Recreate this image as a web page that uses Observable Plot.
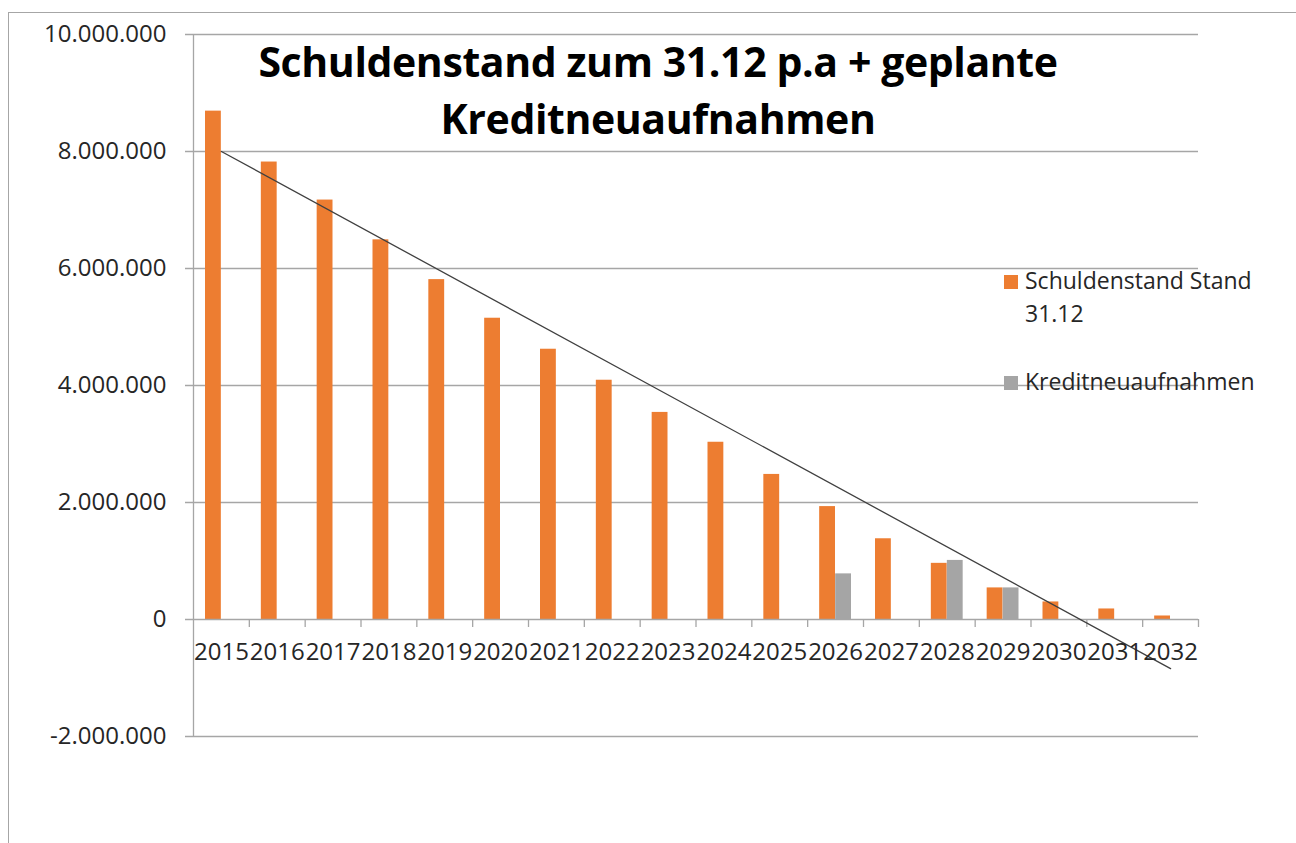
<!DOCTYPE html>
<html>
<head>
<meta charset="utf-8">
<script src="https://cdn.jsdelivr.net/npm/d3@7"></script>
<script src="https://cdn.jsdelivr.net/npm/@observablehq/plot@0.6"></script>
<style>
  html, body { margin: 0; padding: 0; background: #fff; }
  #wrap { position: relative; width: 1296px; height: 843px; overflow: hidden; font-family: "Open Sans", sans-serif; }
  #frame { position: absolute; left: 8px; top: 12px; width: 1400px; height: 900px; border: 1px solid #a6a6a6; box-sizing: border-box; }
  #chart { position: absolute; left: 0; top: 0; }
  #title { position: absolute; left: 158px; width: 1000px; top: 33px; text-align: center; font-weight: 700; font-size: 41px; line-height: 57px; color: #000; letter-spacing: -0.4px; }
  .leg { position: absolute; left: 1004px; font-size: 23px; color: #262626; }
  .sw { position: absolute; left: 0; width: 14px; height: 14px; }
  .lt { position: absolute; left: 21px; white-space: nowrap; line-height: 33px; }
</style>
</head>
<body>
<div id="wrap">
  <div id="frame"></div>
  <div id="chart"></div>
  <div id="title">Schuldenstand zum 31.12 p.a + geplante<br>Kreditneuaufnahmen</div>
  <div class="leg" style="top:275px"><div class="sw" style="background:#ED7D31"></div><div class="lt" style="top:-11px">Schuldenstand Stand<br>31.12</div></div>
  <div class="leg" style="top:376px"><div class="sw" style="background:#A5A5A5"></div><div class="lt" style="top:-11px">Kreditneuaufnahmen</div></div>
</div>
<script>
const years = [2015, 2016, 2017, 2018, 2019, 2020, 2021, 2022, 2023, 2024, 2025, 2026, 2027, 2028, 2029, 2030, 2031, 2032];
const schuldenstand = [8690000, 7820000, 7170000, 6490000, 5810000, 5150000, 4620000, 4090000, 3540000, 3030000, 2480000, 1930000, 1380000, 960000, 540000, 300000, 180000, 60000];
const kreditYears = [2026, 2028, 2029];
const kreditValues = [780000, 1010000, 540000];
const trendYears = [2015, 2032];
const trendValues = [8000000, -840000];
const yTicks = [-2000000, 0, 2000000, 4000000, 6000000, 8000000, 10000000];
const gridTicks = [-2000000, 2000000, 4000000, 6000000, 8000000, 10000000];

const deFmt = d3.formatLocale({decimal: ",", thousands: ".", grouping: [3], currency: ["", "€"], minus: "-"}).format(",d");

const schuld = years.map((y, i) => ({year: y, value: schuldenstand[i]}));
const kredit = kreditYears.map((y, i) => ({year: y, value: kreditValues[i]}));
const trend = trendYears.map((y, i) => ({year: y, value: trendValues[i]}));
const boundaries = years.map(y => y - 0.5).concat([years[years.length - 1] + 0.5]);

const gridColor = "#a6a6a6";
const textColor = "#262626";

const chart = Plot.plot({
  width: 1296,
  height: 843,
  marginLeft: 193,
  marginRight: 98,
  marginTop: 34,
  marginBottom: 107,
  style: {fontFamily: "Open Sans, sans-serif", fontSize: "24px", color: textColor, background: "transparent"},
  x: {type: "linear", domain: [years[0] - 0.5, years[years.length - 1] + 0.5], axis: null},
  y: {domain: [-2000000, 10000000], axis: null},
  marks: [
    Plot.ruleY(gridTicks, {stroke: gridColor, strokeWidth: 1.3, insetLeft: -8}),
    Plot.ruleX([years[0] - 0.5], {y1: -2000000, y2: 10000000, stroke: gridColor, strokeWidth: 1.3}),
    Plot.rectY(schuld, {x1: d => d.year - 0.5, x2: d => d.year + 0.5, y1: 0, y2: "value", fill: "#ED7D31", insetLeft: 12, insetRight: 28}),
    Plot.rectY(kredit, {x1: d => d.year - 0.5, x2: d => d.year + 0.5, y1: 0, y2: "value", fill: "#A5A5A5", insetLeft: 28, insetRight: 12}),
    Plot.ruleY([0], {stroke: gridColor, strokeWidth: 1.3, insetLeft: -8}),
    Plot.ruleX(boundaries.slice(1), {y1: 0, y2: 0, insetBottom: -8, stroke: gridColor, strokeWidth: 1.3}),
    Plot.line(trend, {x: "year", y: "value", stroke: "#404040", strokeWidth: 1.3}),
    Plot.text(years, {x: d => d, y: 0, dy: 33, text: d => String(d), fontSize: 24, fill: textColor}),
    Plot.axisY({ticks: yTicks, tickFormat: deFmt, tickSize: 0, tickPadding: 27, fontSize: 24, fill: textColor, label: null})
  ]
});
document.getElementById("chart").appendChild(chart);
</script>
</body>
</html>
